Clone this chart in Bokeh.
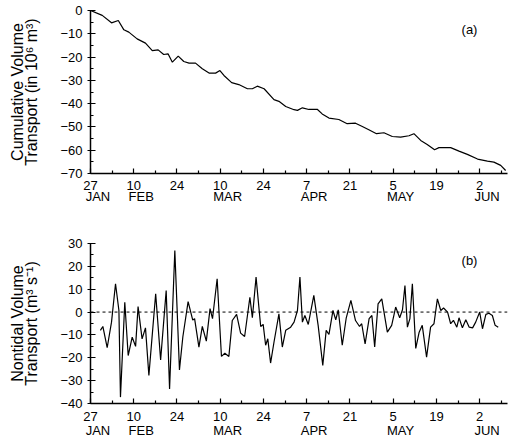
from bokeh.plotting import figure
from bokeh.layouts import column
from bokeh.models import Range1d, FixedTicker, Label, Span, LinearAxis
from bokeh.embed import file_html
from bokeh.resources import INLINE

# ---- data (days since 27 Jan) ----
tick_days = [0, 14, 28, 42, 56, 70, 84, 98, 112, 126]
tick_day_labels = ["27", "10", "24", "10", "24", "7", "21", "5", "19", "2"]
minor_days = [7, 21, 35, 49, 63, 77, 91, 105, 119, 133]
month_days = [0, 14, 42, 70, 98, 126]
month_names = ["JAN", "FEB", "MAR", "APR", "MAY", "JUN"]

cum_days = [0, 3.8, 6.8, 9, 10.8, 12.4, 15.1, 17.8, 20, 21.9,
            23.7, 25.1, 26.5, 28.4, 30.2, 31.9, 34, 36.2, 38.5, 40.5,
            41.9, 43.2, 45.7, 48, 50.8, 52.4, 54, 56.2, 59.4, 61,
            63.2, 65.9, 67, 68.6, 70.7, 73.4, 75, 77.2, 80.4, 83.1,
            85.8, 88, 90.1, 92.6, 95, 97.7, 100.4, 103.1, 104.7, 106.9,
            109, 111.4, 112.8, 116.6, 119.3, 122, 125.3, 128.5, 130.6, 132.8,
            134.4]
cum_values = [0, -2.1, -5.3, -4.3, -8.3, -9.3, -12.2, -14, -17.2, -16.9,
              -18.9, -18.6, -22.2, -19.6, -21.9, -22.6, -22.6, -25, -26.9, -26.9,
              -25.8, -27.9, -31, -31.8, -33.6, -33.6, -32.5, -33.6, -38.3, -39,
              -41.2, -42.6, -42.9, -41.8, -42.5, -42.4, -44.4, -46.2, -46.8, -48.6,
              -48.4, -49.8, -51.2, -52.9, -52.5, -54.1, -54.4, -53.8, -52.9, -55.8,
              -57.5, -59.8, -58.9, -58.9, -60.4, -61.8, -63.8, -64.7, -65.1, -66.5,
              -68.7]

flow_days = [3.2, 4.0, 5.4, 6.8, 8.1, 9.2, 9.7, 11.1, 12.2, 13.5,
             14.6, 15.4, 16.7, 17.8, 18.9, 21.1, 22.7, 24.5, 25.6, 27.3,
             28.8, 29.9, 31.6, 33.1, 33.7, 35.1, 36.2, 37.5, 38.7, 39.5,
             41.0, 42.4, 43.5, 44.8, 45.9, 47.3, 48.6, 49.9, 51.6, 52.4,
             53.6, 55.1, 55.9, 56.7, 57.4, 58.3, 59.4, 61.0, 62.1, 63.2,
             64.8, 65.9, 67.0, 67.8, 68.6, 69.4, 70.5, 72.3, 73.7, 75.2,
             76.3, 77.2, 78.5, 79.4, 80.2, 81.5, 82.8, 84.3, 85.8, 87.1,
             87.8, 88.9, 90.2, 91.1, 92.0, 93.1, 94.3, 96.1, 97.5, 98.8,
             100.1, 101.0, 101.8, 102.6, 103.4, 104.2, 105.3, 106.4, 107.4, 108.8,
             110.1, 111.2, 112.3, 113.4, 114.3, 115.6, 116.6, 117.5, 118.6, 119.3,
             120.4, 121.5, 122.6, 123.7, 124.7, 126.0, 126.9, 128.0, 129.0, 130.1,
             131.0, 132.0]
flow_values = [-8, -6.3, -15.6, -4.4, 12.4, 0.7, -37.2, 4.3, -19, -11,
               -15, 2.4, -11.7, -6.9, -27.7, 8, -21, 9.4, -33.6, 26.9,
               -25.3, -10.8, 4.6, -3.5, -2.9, -15.3, -6.3, -12.7, 1.5, -2.9,
               14.6, -19.4, -18, -19.4, -3.7, -1, -9.2, -10.7, 6.5, -2.5,
               15.3, -6.3, -5.4, -14.5, -11.7, -22.3, -13.2, -0.8, -15.3, -8,
               -6.6, -4.4, 0.7, 15.3, -4.4, -1.5, -5.4, 7.3, -5.8, -23.3,
               -8, -9.8, 0.7, -3.4, 1, -14.5, -2.5, 5.1, -3.7, -6.3,
               -5.1, -13.9, -2.9, -1.5, -15.3, 3.6, 5.8, -8.8, -5.8, 2.2,
               -2.5, 1, 11.6, -6.6, -2.9, 12.4, -15.9, -8.8, -5.8, -19.7,
               -6.6, -5.1, 5.8, 0.7, 1.8, 0, -5.1, -3.6, -6.6, -2.5,
               -6.9, -3.4, -6.6, -6.9, -4.4, 0, -7.3, -1, -0.5, -1.5,
               -5.8, -6.6]

cum_yticks = [0, -10, -20, -30, -40, -50, -60, -70]
cum_yminor = [-5, -15, -25, -35, -45, -55, -65]
flow_yticks = [30, 20, 10, 0, -10, -20, -30, -40]
flow_yminor = [25, 15, 5, -5, -15, -25, -35]

FONT = "Liberation Sans"
X_END = 135
MONTH_SHIFT = 2.4  # month names sit a little right of their tick


def make_panel(ymin, ymax, yticks, yminor, top_border, bottom_border,
               title, tag, tag_y, day_standoff, month_standoff):
    p = figure(width=508, height=220, output_backend="svg", toolbar_location=None,
               x_range=Range1d(0, X_END), y_range=Range1d(ymin, ymax),
               min_border_left=90, min_border_right=1,
               min_border_top=top_border, min_border_bottom=bottom_border)
    p.outline_line_color = None
    p.grid.visible = False
    p.background_fill_color = "white"
    p.border_fill_color = "white"

    xa = p.xaxis[0]
    xa.ticker = FixedTicker(ticks=tick_days, minor_ticks=minor_days)
    xa.major_label_overrides = {d: s for d, s in zip(tick_days, tick_day_labels)}
    xa.major_tick_in = 5
    xa.major_tick_out = 0
    xa.minor_tick_in = 3
    xa.minor_tick_out = 0
    xa.major_label_standoff = day_standoff
    xa.axis_line_width = 1.5
    xa.major_tick_line_width = 1.2
    xa.minor_tick_line_width = 1.2

    ya = p.yaxis[0]
    ya.ticker = FixedTicker(ticks=yticks, minor_ticks=yminor)
    ya.major_tick_in = 5
    ya.major_tick_out = 3
    ya.minor_tick_in = 3
    ya.minor_tick_out = 0
    ya.major_label_standoff = 5
    ya.axis_line_width = 1.5
    ya.major_tick_line_width = 1.2
    ya.minor_tick_line_width = 1.2
    ya.axis_label = title
    ya.axis_label_text_font = FONT
    ya.axis_label_text_font_size = "16px"
    ya.axis_label_text_font_style = "normal"
    ya.axis_label_text_color = "black"
    ya.axis_label_text_line_height = 0.85
    ya.axis_label_standoff = 17

    for ax in (xa, ya):
        ax.major_label_text_font = FONT
        ax.major_label_text_font_size = "13px"
        ax.major_label_text_color = "black"
        ax.axis_line_color = "black"
        ax.major_tick_line_color = "black"
        ax.minor_tick_line_color = "black"

    # second row of x labels: month names
    p.extra_x_ranges = {"months": Range1d(-MONTH_SHIFT, X_END - MONTH_SHIFT)}
    ma = LinearAxis(x_range_name="months",
                    ticker=FixedTicker(ticks=month_days, minor_ticks=[]),
                    major_label_overrides={d: s for d, s in zip(month_days, month_names)},
                    axis_line_color=None, major_tick_line_color=None,
                    minor_tick_line_color=None, major_tick_in=0, major_tick_out=0,
                    major_label_standoff=month_standoff,
                    major_label_text_align="center",
                    major_label_text_font=FONT, major_label_text_font_size="13px",
                    major_label_text_color="black")
    p.add_layout(ma, "below")

    p.add_layout(Label(x=122.7, y=tag_y, text=tag, text_align="center",
                       text_baseline="middle", text_font=FONT,
                       text_font_size="13px", text_color="black"))
    return p


p1 = make_panel(-70, 0, cum_yticks, cum_yminor, 10, 47,
                "Cumulative Volume\nTransport (in 10\u2076 m\u00b3)",
                "(a)", -8.2, 7, -4)
p1.line(cum_days, cum_values, line_color="black", line_width=1.2)

p2 = make_panel(-40, 30, flow_yticks, flow_yminor, 23, 37,
                "Nontidal Volume\nTransport (m\u00b3 s\u207b\u00b9)",
                "(b)", 22.6, 8, -1)
p2.add_layout(Span(location=0, dimension="width", line_color="black",
                   line_width=1, line_dash="3 3"))
p2.line(flow_days, flow_values, line_color="black", line_width=1.2)

layout = column(p1, p2, spacing=0)
open("out.html", "w").write(file_html(layout, INLINE))
